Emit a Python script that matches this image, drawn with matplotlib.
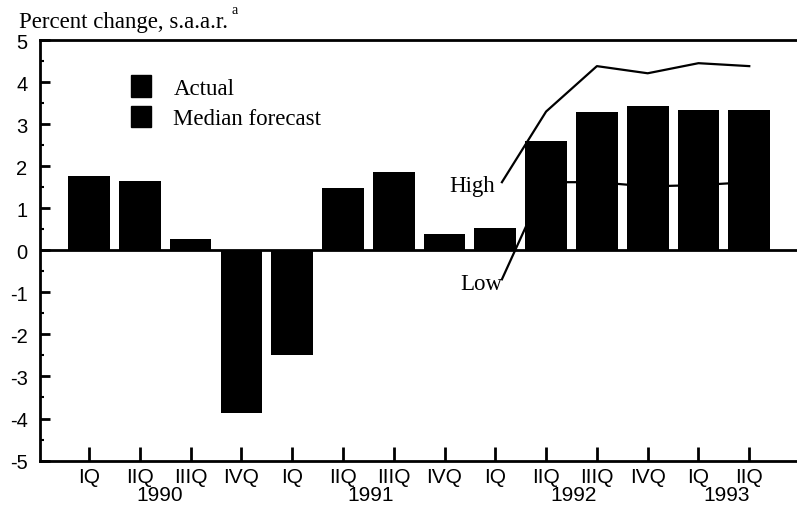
import matplotlib.pyplot as plt
from matplotlib.patches import Patch
from matplotlib.ticker import MultipleLocator

plt.rcParams["axes.unicode_minus"] = False  # guion simple como en el original

# Valores (variacion porcentual, s.a.a.r.)
quarters = ["IQ", "IIQ", "IIIQ", "IVQ", "IQ", "IIQ", "IIIQ", "IVQ",
            "IQ", "IIQ", "IIIQ", "IVQ", "IQ", "IIQ"]
years = ["1990", "1991", "1992", "1993"]
year_pos = [1.4, 5.55, 9.55, 12.55]
values = [1.76, 1.65, 0.28, -3.88, -2.5, 1.49, 1.87, 0.38, 0.54,
          2.6, 3.3, 3.42, 3.34, 3.34]
range_start = 9  # primer trimestre con rango alto/bajo
high = [3.3, 4.38, 4.21, 4.45, 4.38]
low = [1.62, 1.62, 1.52, 1.55, 1.62]

serif = "Liberation Serif"
sans = "Liberation Sans"

fig = plt.figure(figsize=(7.97, 5.10), dpi=100)
ax = fig.add_axes([0.0502, 0.095, 0.9498, 0.8245])

x = list(range(len(values)))
fx = list(range(range_start, range_start + len(high)))

# Linea baja por debajo de las barras (solo se ve entre ellas)
ax.plot([8.13] + fx, [-0.69] + low, color="black", lw=1.6, zorder=1)
ax.bar(x, values, width=0.82, color="black", zorder=2)
ax.axhline(0, color="black", lw=2, zorder=3)
# Linea alta por encima
ax.plot([8.13] + fx, [1.62] + high, color="black", lw=1.6, zorder=4)

ax.text(8.0, 1.55, "High", ha="right", va="center", fontsize=16.5, family=serif)
ax.text(8.13, -0.8, "Low", ha="right", va="center", fontsize=16.5, family=serif)

# Leyenda
handles = [Patch(color="black"), Patch(color="black")]
ax.legend(handles, ["Actual", "Median forecast"], loc="upper left",
          bbox_to_anchor=(0.093, 0.965), frameon=False,
          prop={"family": serif, "size": 16.5}, handlelength=0.85,
          handleheight=1.05, handletextpad=1.0, labelspacing=0.3)

ax.set_xlim(-0.965, 13.94)
ax.set_ylim(-5, 5)
ax.set_xticks(x)
ax.set_xticklabels(quarters, fontsize=15, family=sans)
ax.yaxis.set_major_locator(MultipleLocator(1))
ax.yaxis.set_minor_locator(MultipleLocator(0.5))
for lab in ax.get_yticklabels():
    lab.set_family(sans)
    lab.set_fontsize(14.5)

ax.tick_params(axis="x", direction="in", length=10, width=2, pad=5)
ax.tick_params(axis="y", which="major", direction="in", length=7, width=2, pad=9)
ax.tick_params(axis="y", which="minor", direction="in", length=3, width=1.5)

ax.spines["right"].set_visible(False)
for s in ["left", "bottom", "top"]:
    ax.spines[s].set_linewidth(2)

for yr, p in zip(years, year_pos):
    ax.text(p, -5.8, yr, ha="center", va="center", fontsize=15, family=sans)

fig.text(0.024, 0.945, "Percent change, s.a.a.r.", ha="left",
         va="baseline", fontsize=16.5, family=serif)
fig.text(0.290, 0.972, "a", ha="left", va="baseline", fontsize=10, family=serif)

fig.savefig("out.png", dpi=100)
